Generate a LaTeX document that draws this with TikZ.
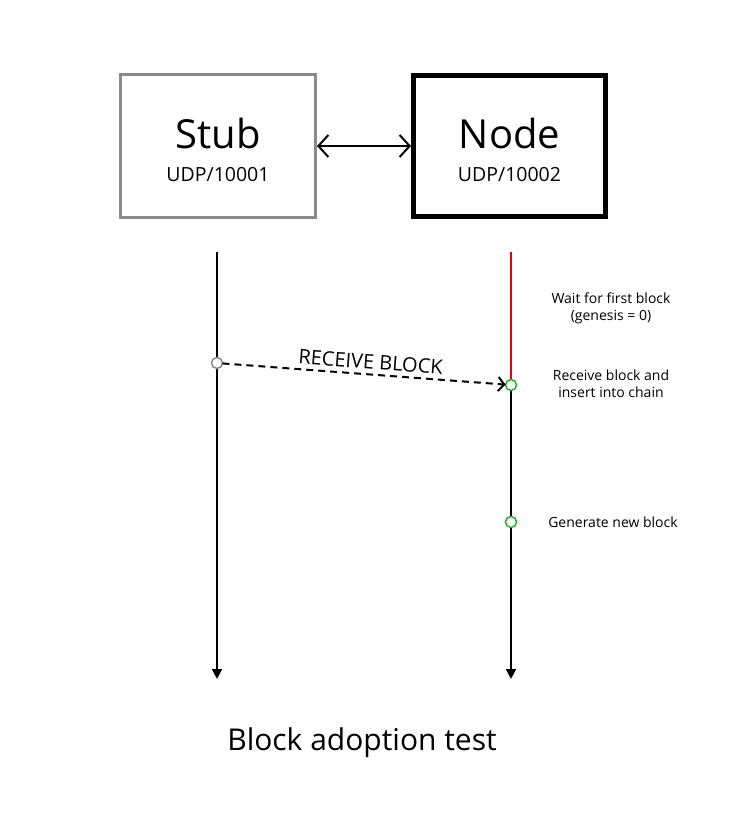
\documentclass[tikz,border=0pt]{standalone}
\usepackage{fontspec}
\setmainfont{Open Sans}
\usetikzlibrary{arrows.meta,positioning}
\definecolor{stubgray}{HTML}{8A8A8A}
\definecolor{waitred}{HTML}{E8000B}
\definecolor{evgreen}{HTML}{22B02E}
\tikzset{%
   box/.style={rectangle, inner sep=0pt},
   stubbox/.style={box, draw=stubgray, line width=3pt, minimum width=195pt, minimum height=143pt},
   nodebox/.style={box, draw=black, line width=5pt, minimum width=192pt, minimum height=141pt},
   big/.style={font=\fontsize{40}{44}\selectfont, inner sep=0pt},
   port/.style={font=\fontsize{19.5}{22}\selectfont, inner sep=0pt},
   life/.style={line width=2pt, -{Triangle[length=10pt,width=10pt]}},
   event/.style={circle, inner sep=0mm, outer sep=0mm, minimum size=11pt, line width=1.5pt, draw=evgreen, fill=white},
   barb/.tip={Straight Barb[length=10pt,width=22pt]},
   note/.style={font=\fontsize{14}{17}\selectfont, align=center},
}

\begin{document}
\begin{tikzpicture}[x=1pt, y=-1pt]
      \useasboundingbox (0,0) rectangle (751,831);
      \node[stubbox] (stub) at (218,146) {};
      \node[nodebox] (node) at (509.5,146) {};
      \node[big] (stub-name) at ([yshift=13pt]stub.center) {Stub};
      \node[port] (stub-port) at ([yshift=-29pt]stub.center) {UDP/10001};
      \node[big] (node-name) at ([yshift=13pt]node.center) {Node};
      \node[port] (node-port) at ([yshift=-29pt]node.center) {UDP/10002};
      \draw[line width=2pt, barb-barb] (stub) -- (node);
      % lifelines
      \coordinate (s-top) at (217,252);
      \coordinate (s-bot) at (217,679);
      \coordinate (n-top) at (511,252);
      \coordinate (n-recv) at (511,385);
      \coordinate (n-gen) at (511,522);
      \coordinate (n-bot) at (511,679);
      \draw[life] (s-top) -- (s-bot);
      \draw[line width=2pt, waitred] (n-top) -- (n-recv);
      \draw[life] (n-recv) -- (n-bot);
      \node[event, draw=stubgray] (send) at (217,363) {};
      \node[event] (recv) at (n-recv) {};
      \node[event] (gen) at (n-gen) {};
      \draw[line width=2pt, dash pattern=on 7pt off 5pt, -{Straight Barb[length=6pt,width=14pt]}] (send) -- (recv)
         node[pos=0.52, sloped, above=1pt, font=\fontsize{20}{22}\selectfont] (msg) {RECEIVE BLOCK};
      % notes
      \node[note] (wait) at (611,308) {Wait for first block\\(genesis = 0)};
      \node[note] (insert) at (611,384) {Receive block and\\insert into chain};
      \node[note] (new) at (613,522) {Generate new block};
      \node[font=\fontsize{30}{34}\selectfont] (title) at (362,743) {Block adoption test};
   \end{tikzpicture}
\end{document}
